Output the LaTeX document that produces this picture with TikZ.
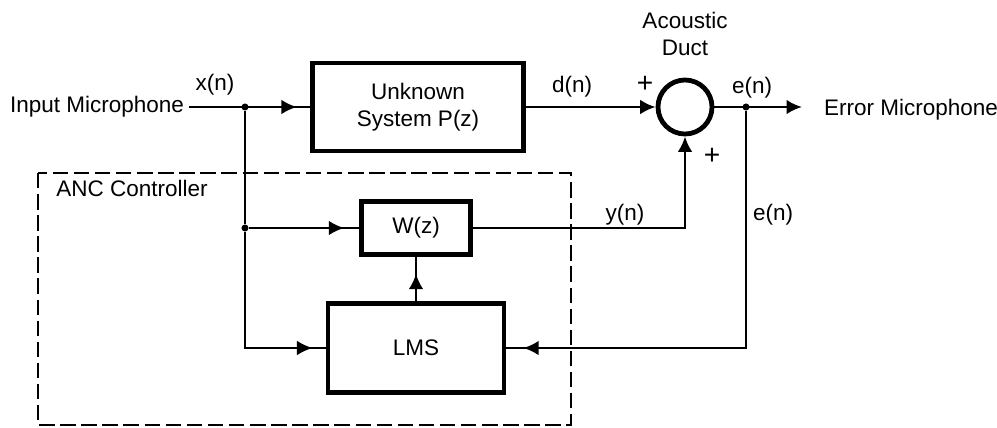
\documentclass[tikz,border=0pt]{standalone}
\usepackage{fontspec}
\setmainfont{Liberation Sans}
\usetikzlibrary{arrows.meta,decorations.markings}

\begin{document}
\begin{tikzpicture}[x=0.025cm, y=-0.025cm,
    every node/.style={font=\fontsize{16}{19}\selectfont},
    block/.style={draw, line width=3.4pt, inner sep=0pt, align=center},
    wire/.style={line width=2pt},
    tip/.style={-{Latex[length=11pt,width=10.5pt]}},
    midtip/.style={postaction={decorate}, decoration={markings,
      mark=at position -#1 with {\arrow{Latex[length=11pt,width=10.5pt]}}}},
    midtip/.default=0.33cm,
    dot/.style={circle, fill, inner sep=0pt, minimum size=5pt}]
  \useasboundingbox (0,0) rectangle (997,427);
  % controller frame
  \draw[line width=2pt, dash pattern=on 11pt off 4pt] (38,173) rectangle (571,425);
  \node (anc) at (132,188) {ANC Controller};
  % blocks
  \node (inmic) at (97,107) {Input Microphone};
  \node[block, minimum width=5.275cm, minimum height=2.2cm] (plant) at (418,107) {Unknown\\System P(z)};
  \node[circle, draw, line width=3.4pt, minimum size=1.35cm, inner sep=0pt] (sum) at (685,107) {};
  \node[align=center] (duct) at (685,34) {Acoustic\\Duct};
  \node (outmic) at (911,110) {Error Microphone};
  \node[block, minimum width=2.725cm, minimum height=1.325cm] (W) at (416,228) {W(z)};
  \node[block, minimum width=4.4cm, minimum height=2.225cm] (lms) at (416,348) {LMS};
  % branch points
  \node[dot] (xj) at (245,107) {};
  \node[dot] (wj) at (245,228) {};
  \node[dot] (ej) at (746,107) {};
  \coordinate (emic) at (802,107);
  % signal paths
  \draw[wire, midtip] (inmic.east) -- (plant.west);
  \draw[wire, tip] (plant.east) -- (sum.west);
  \draw[wire, tip] (sum.east) -- (emic);
  \draw[line width=1.3pt] (xj) -- (wj);
  \draw[wire, midtip=0.37cm] (wj) -- (W.west);
  \draw[line width=1.3pt, midtip] (wj) |- (lms.west);
  \draw[wire, midtip=0.42cm] (lms.north) -- (W.south);
  \draw[wire, midtip=0.42cm] (ej) |- (lms.east);
  \draw[wire, tip] (W.east) -| (sum.south);
  % signal labels
  \node (lx) at (215,85) {x(n)};
  \node (ld) at (572,87) {d(n)};
  \node (le) at (752,88) {e(n)};
  \node (ly) at (625,215) {y(n)};
  \node (lerr) at (773,215) {e(n)};
  \node[font=\fontsize{20}{20}\selectfont] (pa) at (645,84) {+};
  \node[font=\fontsize{20}{20}\selectfont] (pb) at (712,156) {+};
\end{tikzpicture}
\end{document}
